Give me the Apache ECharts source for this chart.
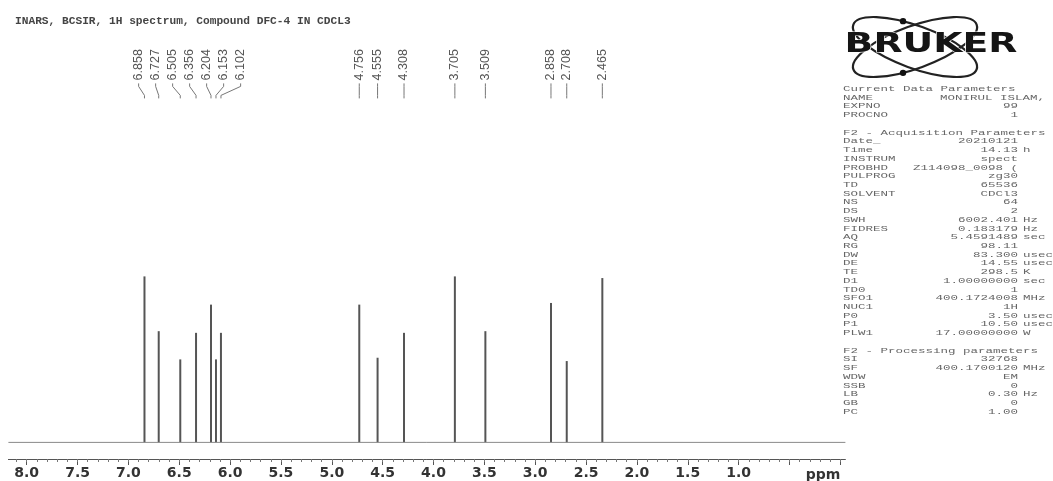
<!DOCTYPE html>
<html>
<head>
<meta charset="utf-8">
<script src="https://cdn.jsdelivr.net/npm/echarts@6/dist/echarts.min.js"></script>
<style>
html,body{margin:0;padding:0;background:#ffffff;}
#chart{width:1053px;height:481px;}
</style>
</head>
<body>
<div id="chart"></div>
<script>
// ---------------- data ----------------
const titleText = 'INARS, BCSIR, 1H spectrum, Compound DFC-4 IN CDCL3';

// peak positions as drawn on the ppm axis, printed labels, relative intensities
const peakShifts  = [6.842, 6.702, 6.490, 6.335, 6.188, 6.139, 6.090, 4.730, 4.550, 4.290, 3.790, 3.490, 2.845, 2.690, 2.340];
const peakLabels  = ['6.858','6.727','6.505','6.356','6.204','6.153','6.102','4.756','4.555','4.308','3.705','3.509','2.858','2.708','2.465'];
const peakHeights = [1.00, 0.67, 0.50, 0.66, 0.83, 0.50, 0.66, 0.83, 0.51, 0.66, 1.00, 0.67, 0.84, 0.49, 0.99];

const baselineRange = [8.18, -0.05];

const tickLabels = ['8.0','7.5','7.0','6.5','6.0','5.5','5.0','4.5','4.0','3.5','3.0','2.5','2.0','1.5','1.0'];
const majorTickValues = [8.0,7.5,7.0,6.5,6.0,5.5,5.0,4.5,4.0,3.5,3.0,2.5,2.0,1.5,1.0,0.5,0.0];
const axisUnit = 'ppm';

const logoText = 'BRUKER';

const currentHeader = 'Current Data Parameters';
const currentParams = [
  ['NAME', 'MONIRUL ISLAM, BCSIR', ''],
  ['EXPNO', '99', ''],
  ['PROCNO', '1', '']
];
const acqHeader = 'F2 - Acquisition Parameters';
const acqParams = [
  ['Date_', '20210121', ''],
  ['Time', '14.13', 'h'],
  ['INSTRUM', 'spect', ''],
  ['PROBHD', 'Z114098_0098 (', ''],
  ['PULPROG', 'zg30', ''],
  ['TD', '65536', ''],
  ['SOLVENT', 'CDCl3', ''],
  ['NS', '64', ''],
  ['DS', '2', ''],
  ['SWH', '6002.401', 'Hz'],
  ['FIDRES', '0.183179', 'Hz'],
  ['AQ', '5.4591489', 'sec'],
  ['RG', '98.11', ''],
  ['DW', '83.300', 'usec'],
  ['DE', '14.55', 'usec'],
  ['TE', '298.5', 'K'],
  ['D1', '1.00000000', 'sec'],
  ['TD0', '1', ''],
  ['SFO1', '400.1724008', 'MHz'],
  ['NUC1', '1H', ''],
  ['P0', '3.50', 'usec'],
  ['P1', '10.50', 'usec'],
  ['PLW1', '17.00000000', 'W']
];
const procHeader = 'F2 - Processing parameters';
const procParams = [
  ['SI', '32768', ''],
  ['SF', '400.1700120', 'MHz'],
  ['WDW', 'EM', ''],
  ['SSB', '0', ''],
  ['LB', '0.30', 'Hz'],
  ['GB', '0', ''],
  ['PC', '1.00', '']
];

// ---------------- helpers ----------------
function layoutLabels(px, minGap, step) {
  let clusters = px.map((p, i) => ({ idx: [i], c: p }));
  const ext = cl => [cl.c - (cl.idx.length - 1) * step / 2, cl.c + (cl.idx.length - 1) * step / 2];
  let merged = true;
  while (merged) {
    merged = false;
    for (let k = 0; k < clusters.length - 1; k++) {
      const a = clusters[k], b = clusters[k + 1];
      if (ext(b)[0] - ext(a)[1] < minGap) {
        const idx = a.idx.concat(b.idx);
        const c = idx.reduce((s, j) => s + px[j], 0) / idx.length;
        clusters.splice(k, 2, { idx: idx, c: c });
        merged = true;
        break;
      }
    }
  }
  const out = [];
  clusters.forEach(cl => cl.idx.forEach((j, m) => {
    out[j] = cl.c + (m - (cl.idx.length - 1) / 2) * step;
  }));
  return out;
}

const minorTickValues = [];
for (let k = 0; k <= 81; k++) minorTickValues.push(+(k * 0.1).toFixed(1));

// parameter block graphic
const paramFont = '12.5px "Liberation Mono"';
const paramColor = '#666';
const pX = 843, pValRight = 1018, pUnitX = 1023, pY0 = 89, pStep = 8.72, pScaleY = 0.62;
const paramElems = [];
let row = 0;
function addText(txt, x, y, align) {
  paramElems.push({
    type: 'text', x: x, y: y, scaleY: pScaleY, silent: true,
    style: { text: txt, font: paramFont, fill: paramColor, align: align, verticalAlign: 'middle' }
  });
}
function addSection(header, rows, leftValueRows) {
  addText(header, pX, pY0 + row * pStep, 'left');
  row++;
  rows.forEach(r => {
    const y = pY0 + row * pStep;
    addText(r[0], pX, y, 'left');
    if (leftValueRows && leftValueRows.indexOf(r[0]) >= 0) {
      addText(r[1], 940, y, 'left');
    } else {
      addText(r[1], pValRight, y, 'right');
    }
    if (r[2]) addText(r[2], pUnitX, y, 'left');
    row++;
  });
  row++;
}
addSection(currentHeader, currentParams, ['NAME']);
addSection(acqHeader, acqParams);
addSection(procHeader, procParams);

// logo
const logoCx = 915, logoCy = 47, orbRx = 65.6, orbRy = 21.2, orbPhi = 20 * Math.PI / 180;
function orbitPoint(phi, t) {
  return [
    logoCx + orbRx * Math.cos(t) * Math.cos(phi) - orbRy * Math.sin(t) * Math.sin(phi),
    logoCy + orbRx * Math.cos(t) * Math.sin(phi) + orbRy * Math.sin(t) * Math.cos(phi)
  ];
}
const e1 = orbitPoint(orbPhi, Math.atan2(-0.958, -0.308));
const e2 = orbitPoint(-orbPhi, Math.atan2(0.958, -0.308));
const logoElems = [
  { type: 'ellipse', x: logoCx, y: logoCy, rotation: -orbPhi, shape: { cx: 0, cy: 0, rx: orbRx, ry: orbRy },
    style: { fill: null, stroke: '#222', lineWidth: 2.2 }, silent: true },
  { type: 'ellipse', x: logoCx, y: logoCy, rotation: orbPhi, shape: { cx: 0, cy: 0, rx: orbRx, ry: orbRy },
    style: { fill: null, stroke: '#222', lineWidth: 2.2 }, silent: true },
  { type: 'circle', shape: { cx: e1[0], cy: e1[1], r: 3.2 }, style: { fill: '#111' }, silent: true },
  { type: 'circle', shape: { cx: e2[0], cy: e2[1], r: 3.2 }, style: { fill: '#111' }, silent: true },
  { type: 'text', x: 931, y: 45, scaleX: 1.4, silent: true,
    style: { text: logoText, font: 'bold 27px "DejaVu Sans"', fill: '#151515', align: 'center', verticalAlign: 'middle',
             stroke: '#ffffff', lineWidth: 1 } }
];

// ---------------- chart ----------------
const chart = echarts.init(document.getElementById('chart'), null, { renderer: 'canvas' });

const option = {
  backgroundColor: '#ffffff',
  animation: false,
  title: {
    text: titleText, left: 10, top: 11,
    textStyle: { fontFamily: 'Liberation Mono', fontWeight: 'bold', fontSize: 11.2, color: '#444' }
  },
  grid: { left: 8.4, right: 207.6, top: 110.4, bottom: 22, containLabel: false },
  xAxis: [
    {
      type: 'value', min: baselineRange[1], max: baselineRange[0], inverse: true, position: 'bottom',
      axisLine: { show: true, onZero: false, lineStyle: { color: '#555', width: 1 } },
      axisTick: { show: true, customValues: majorTickValues, length: 6, lineStyle: { color: '#555', width: 1 } },
      axisLabel: {
        customValues: tickLabels.map(Number),
        formatter: v => v.toFixed(1),
        fontFamily: 'DejaVu Sans', fontWeight: 'bold', fontSize: 14, color: '#333', margin: 7
      },
      splitLine: { show: false }
    },
    {
      type: 'value', min: baselineRange[1], max: baselineRange[0], inverse: true, position: 'bottom',
      axisLine: { show: false, onZero: false },
      axisTick: { show: true, customValues: minorTickValues, length: 3, lineStyle: { color: '#777', width: 1 } },
      axisLabel: { show: false },
      splitLine: { show: false }
    }
  ],
  yAxis: { type: 'value', min: -0.1, max: 2.0, show: false },
  graphic: [
    { type: 'text', x: 823, y: 475, silent: true,
      style: { text: axisUnit, font: 'bold 14px "DejaVu Sans"', fill: '#333', align: 'center', verticalAlign: 'middle' } },
    ...paramElems,
    ...logoElems
  ],
  series: [
    {
      type: 'line', xAxisIndex: 0, yAxisIndex: 0, silent: true,
      data: [[baselineRange[0], 0], [baselineRange[1], 0]],
      symbol: 'none', lineStyle: { color: '#8a8a8a', width: 1 }
    },
    {
      type: 'bar', xAxisIndex: 0, yAxisIndex: 0, silent: true,
      data: peakShifts.map((x, i) => [x, peakHeights[i]]),
      barWidth: 2, itemStyle: { color: '#555' }
    },
    {
      type: 'custom', xAxisIndex: 0, yAxisIndex: 0, silent: true,
      data: peakShifts.map((x, i) => [x, peakHeights[i], i]),
      renderItem: function (params, api) {
        const i = params.dataIndex;
        const px = peakShifts.map(x => api.coord([x, 0])[0]);
        const lx = layoutLabels(px, 15, 17)[i];
        const gridTop = api.coord([0, 2.0])[1];
        const textBottom = gridTop - 30;
        return {
          type: 'group',
          children: [
            {
              type: 'text', x: lx, y: textBottom, rotation: Math.PI / 2,
              style: { text: peakLabels[i], font: '12.5px "Liberation Sans"', fill: '#555', align: 'left', verticalAlign: 'middle' }
            },
            {
              type: 'polyline',
              shape: { points: [[lx, gridTop - 27], [lx, gridTop - 24], [px[i], gridTop - 15], [px[i], gridTop - 12]] },
              style: { stroke: '#777', lineWidth: 1, fill: null }
            }
          ]
        };
      }
    }
  ]
};
chart.setOption(option);
</script>
</body>
</html>
